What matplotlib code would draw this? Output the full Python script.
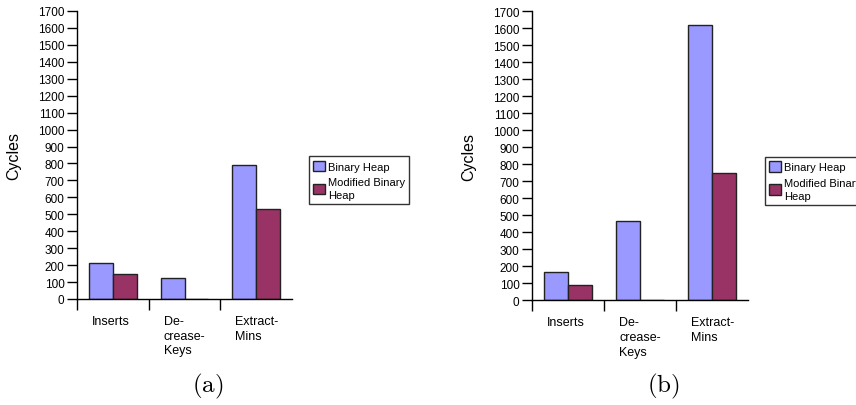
import numpy as np
import matplotlib.pyplot as plt
from matplotlib.ticker import FixedLocator

plt.rcParams['font.family'] = ['Liberation Sans', 'DejaVu Sans']
plt.rcParams['mathtext.fontset'] = 'cm'

# Operation categories (labels wrapped as in the original chart)
categories = ['Inserts', 'De-\ncrease-\nKeys', 'Extract-\nMins']
series_names = ['Binary Heap', 'Modified Binary\nHeap']

# Cycles per operation, panel (a) and panel (b)
binary_a = [210, 122, 793]
modified_a = [150, 2, 533]
binary_b = [168, 464, 1617]
modified_b = [92, 0, 746]

colors = ['#9999ff', '#993366']

fig = plt.figure(figsize=(8.56, 4.06), dpi=100)
ax_a = fig.add_axes([0.0900, 0.2611, 0.2512, 0.7094])
ax_b = fig.add_axes([0.6215, 0.2579, 0.2523, 0.7125])


def draw_panel(ax, binary, modified, legend_xy, caption, caption_x):
    x = np.arange(len(categories)) + 0.5
    w = 1 / 3
    for k, vals in enumerate([binary, modified]):
        ax.bar(x - w / 2 + k * w, vals, width=w, color=colors[k],
               edgecolor='#222222', linewidth=1.0, label=series_names[k])

    ax.set_xlim(0, 3)
    ax.set_ylim(0, 1700)
    ax.set_yticks(np.arange(0, 1701, 100))
    ax.tick_params(axis='y', direction='out', length=7, width=1,
                   labelsize=8.5, pad=2)
    ax.set_xticks([])
    ax.xaxis.set_minor_locator(FixedLocator([0, 1, 2]))
    ax.tick_params(axis='x', which='minor', direction='out', length=8, width=1)
    for s in ['top', 'right']:
        ax.spines[s].set_visible(False)
    for s in ['left', 'bottom']:
        ax.spines[s].set_linewidth(1.0)

    # category labels, left-aligned under each group
    trans = ax.get_xaxis_transform()
    for i, lab in enumerate(categories):
        ax.text(i + 0.21, -0.055, lab, transform=trans, ha='left', va='top',
                fontsize=9, linespacing=1.3)

    ax.set_ylabel('Cycles', fontsize=11.5, labelpad=12)

    leg = ax.legend(loc='upper left', bbox_to_anchor=legend_xy,
                    bbox_transform=fig.transFigure, borderaxespad=0,
                    fontsize=8, frameon=True, fancybox=False,
                    handlelength=1.0, handleheight=1.1, handletextpad=0.3,
                    borderpad=0.4, labelspacing=0.5)
    for t in leg.get_texts():
        t.set_linespacing(1.35)
    leg.get_frame().set_edgecolor('black')
    leg.get_frame().set_linewidth(1.0)

    fig.text(caption_x, 0.012, caption, ha='center', va='bottom', fontsize=18)


draw_panel(ax_a, binary_a, modified_a, (0.361, 0.613), r'$(\mathrm{a})$', 0.243)
draw_panel(ax_b, binary_b, modified_b, (0.8937, 0.6116), r'$(\mathrm{b})$', 0.775)

fig.savefig('out.png', dpi=100)
